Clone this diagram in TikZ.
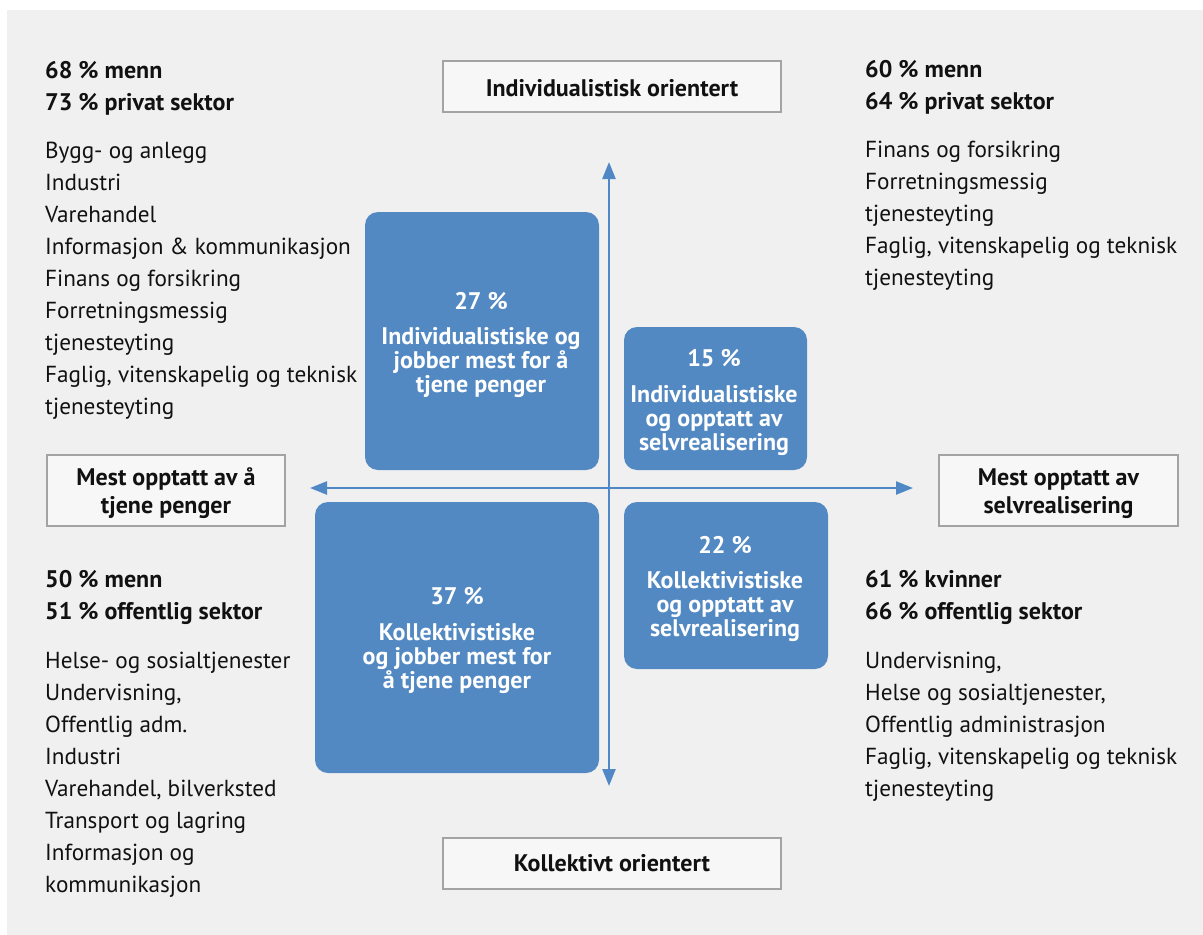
\documentclass[tikz,border=0pt]{standalone}
\usepackage{fontspec}
\setmainfont{PT Sans}
\usetikzlibrary{arrows.meta}
\definecolor{bgray}{HTML}{F0F0F0}
\definecolor{qblue}{HTML}{5389C2}
\definecolor{axisblue}{HTML}{5088C6}
\definecolor{lboxfill}{HTML}{F7F7F7}
\definecolor{lboxline}{HTML}{A3A3A3}
\definecolor{ink}{HTML}{111111}
\begin{document}
\begin{tikzpicture}[x=1pt,y=-1pt,
  qbox/.style={fill=qblue, draw=none, rounded corners=13pt, inner sep=0pt},
  lbox/.style={fill=lboxfill, draw=lboxline, line width=1.6pt, inner sep=0pt},
  lst/.style={anchor=base west, inner sep=0pt, text=ink, font=\fontsize{23.2}{27}\selectfont},
  hdr/.style={anchor=base west, inner sep=0pt, text=ink, font=\fontsize{24}{28}\selectfont\bfseries},
  btxt/.style={anchor=base, inner sep=0pt, text=white, font=\fontsize{24}{28}\selectfont\bfseries},
  ltxt/.style={anchor=base, inner sep=0pt, text=ink, font=\fontsize{24}{28}\selectfont\bfseries},
  axis/.style={draw=axisblue, line width=2.4pt, {Triangle[length=17pt,width=13pt]}-{Triangle[length=17pt,width=13pt]}}
]
\useasboundingbox (0,0) rectangle (1203,935);
\fill[white] (0,0) rectangle (1203,935);
\fill[bgray] (7,10) rectangle (1203,935);

% quadrant boxes
\node[qbox, minimum width=234pt, minimum height=258pt] (q1) at (482,341) {};
\node[qbox, minimum width=183pt, minimum height=143pt] (q2) at (715.5,398.5) {};
\node[qbox, minimum width=284pt, minimum height=271pt] (q3) at (457,637.5) {};
\node[qbox, minimum width=204pt, minimum height=167pt] (q4) at (726,585.5) {};

% axes
\coordinate (ytop) at (609,162);
\coordinate (ybot) at (609,786);
\coordinate (xleft) at (310,488);
\coordinate (xright) at (913,488);
\draw[axis] (ybot) -- (ytop);
\draw[axis] (xleft) -- (xright);

% label boxes
\node[lbox, minimum width=338.5pt, minimum height=51.5pt] (top) at (612,86.5) {};
\node[lbox, minimum width=338.5pt, minimum height=51.5pt] (bot) at (612,863.5) {};
\node[lbox, minimum width=238.5pt, minimum height=71.5pt] (left) at (166,490.5) {};
\node[lbox, minimum width=239.5pt, minimum height=71.5pt] (right) at (1058.5,490.5) {};
\node[ltxt] (topt) at (612,96) {Individualistisk orientert};
\node[ltxt] (bott) at (612,871) {Kollektivt orientert};
\node[ltxt] (left1) at (166,485) {Mest opptatt av å};
\node[ltxt] (left2) at (166,513) {tjene penger};
\node[ltxt] (right1) at (1058.5,485) {Mest opptatt av};
\node[ltxt] (right2) at (1058.5,513) {selvrealisering};

% quadrant texts
\node[btxt] (q1p) at (481,309) {27 \%};
\foreach \t [count=\i] in {Individualistiske og, jobber mest for å, tjene penger}
  \node[btxt, name=q1l\i] at (481,344+24*\i-24) {\t};
\node[btxt] (q2p) at (714,366) {15 \%};
\foreach \t [count=\i] in {Individualistiske, og opptatt av, selvrealisering}
  \node[btxt, name=q2l\i] at (714,402+24*\i-24) {\t};
\node[btxt] (q3p) at (457,604) {37 \%};
\foreach \t [count=\i] in {Kollektivistiske, og jobber mest for, å tjene penger}
  \node[btxt, name=q3l\i] at (457,640+24*\i-24) {\t};
\node[btxt] (q4p) at (725,553) {22 \%};
\foreach \t [count=\i] in {Kollektivistiske, og opptatt av, selvrealisering}
  \node[btxt, name=q4l\i] at (725,588+24*\i-24) {\t};

% corner texts: top left
\node[hdr] (tlh1) at (45,78) {68 \% menn};
\node[hdr] (tlh2) at (45,110) {73 \% privat sektor};
\foreach \t [count=\i] in {Bygg- og anlegg, Industri, Varehandel, Informasjon \& kommunikasjon, Finans og forsikring, Forretningsmessig, tjenesteyting, {Faglig, vitenskapelig og teknisk}, tjenesteyting}
  \node[lst, name=tl\i] at (45,158+32*\i-32) {\t};

% top right
\node[hdr] (trh1) at (865,77) {60 \% menn};
\node[hdr] (trh2) at (865,109) {64 \% privat sektor};
\foreach \t [count=\i] in {Finans og forsikring, Forretningsmessig, tjenesteyting, {Faglig, vitenskapelig og teknisk}, tjenesteyting}
  \node[lst, name=tr\i] at (865,157+32*\i-32) {\t};

% bottom left
\node[hdr] (blh1) at (45,587) {50 \% menn};
\node[hdr] (blh2) at (45,619) {51 \% offentlig sektor};
\foreach \t [count=\i] in {Helse- og sosialtjenester, {Undervisning,}, Offentlig adm., Industri, {Varehandel, bilverksted}, Transport og lagring, Informasjon og, kommunikasjon}
  \node[lst, name=bl\i] at (45,668+32*\i-32) {\t};

% bottom right
\node[hdr] (brh1) at (865,587) {61 \% kvinner};
\node[hdr] (brh2) at (865,619) {66 \% offentlig sektor};
\foreach \t [count=\i] in {{Undervisning,}, {Helse og sosialtjenester,}, Offentlig administrasjon, {Faglig, vitenskapelig og teknisk}, tjenesteyting}
  \node[lst, name=br\i] at (865,668+32*\i-32) {\t};
\end{tikzpicture}
\end{document}
